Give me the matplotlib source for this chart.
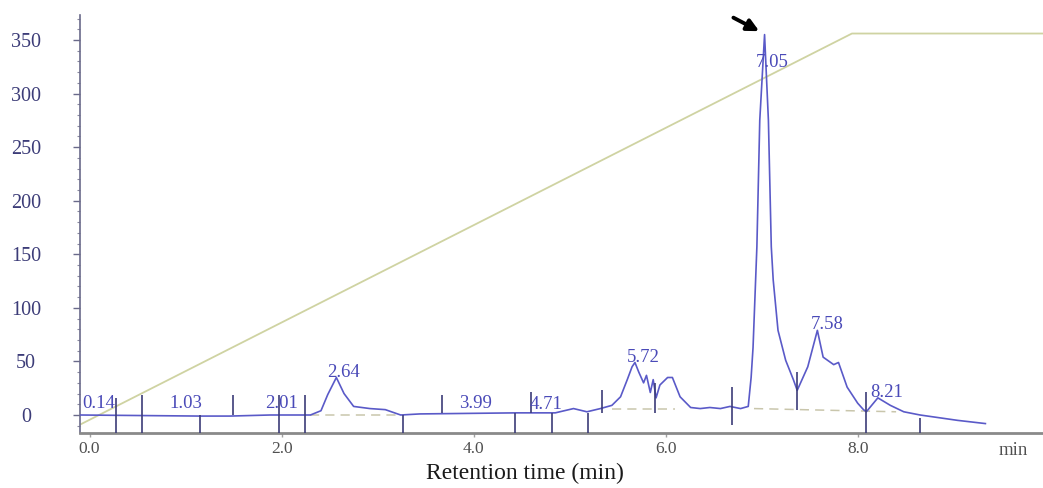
import matplotlib
matplotlib.use("Agg")
import matplotlib.pyplot as plt
from matplotlib.ticker import MultipleLocator

# ---------------- data ----------------
time_min = [-0.10, 1.15, 1.46, 1.88, 2.30, 2.41, 2.48, 2.57, 2.65, 2.75, 2.92, 3.08,
            3.24, 3.44, 4.45, 4.85, 5.04, 5.18, 5.32, 5.44, 5.53, 5.60, 5.65, 5.68,
            5.72, 5.77, 5.80, 5.84, 5.87, 5.90, 5.94, 6.02, 6.07, 6.15, 6.26, 6.36,
            6.46, 6.57, 6.67, 6.78, 6.86, 6.89, 6.91, 6.95, 6.98, 7.03, 7.07, 7.10,
            7.12, 7.17, 7.25, 7.33, 7.37, 7.48, 7.58, 7.64, 7.75, 7.80, 7.89, 8.00,
            8.06, 8.09, 8.21, 8.34, 8.48, 8.65, 9.04, 9.33]
signal = [0, -1, -1, 0, 0, 4, 19, 35, 20, 8, 6, 5,
          0, 1, 2, 2, 6, 3, 6, 9, 17, 33, 45, 49,
          40, 30, 37, 21, 33, 16, 28, 35, 35, 17, 7, 6,
          7, 6, 8, 6, 8, 35, 63, 157, 275, 355, 275, 157,
          126, 79, 51, 33, 23, 45, 79, 54, 47, 49, 26, 11,
          5, 3, 16, 9, 3, 0, -5, -8]

gradient_time = [-0.10, 7.94, 9.93]
gradient_value = [-9, 356, 356]

peak_labels = ["0.14", "1.03", "2.01", "2.64", "3.99", "4.71", "5.72", "7.05", "7.58", "8.21"]
peak_label_height = [11, 11, 11, 40, 11, 10, 54, 329, 84, 21]

marker_time = [0.28, 0.55, 1.15, 1.49, 1.97, 2.24, 3.26, 3.67, 4.43, 4.60, 4.82,
               5.19, 5.34, 5.89, 6.69, 7.37, 8.09, 8.65]
marker_low = [-17, -17, -17, 0, -17, -17, -17, 2, -17, 2, -17, -17, 2, 2, -9, 5, -17, -17]
marker_high = [16, 19, 0, 19, 19, 19, 0, 19, 2, 21, 2, 2, 23, 30, 26, 40, 21, -3]

baseline_start_t = [2.30, 5.44, 6.92]
baseline_end_t = [3.24, 6.10, 8.40]
baseline_start_v = [0, 6, 6]
baseline_end_v = [0, 6, 3]

x_ticks = [0, 2, 4, 6, 8]
x_tick_labels = ["0.0", "2.0", "4.0", "6.0", "8.0"]
y_ticks = [0, 50, 100, 150, 200, 250, 300, 350]

# ---------------- drawing ----------------
serif = ["Liberation Serif", "DejaVu Serif"]
plt.rcParams["font.family"] = serif

fig = plt.figure(figsize=(10.43, 4.88), dpi=100)
ax = fig.add_axes([0.0767, 0.1127, 0.9233, 0.8566])

ax.plot(gradient_time, gradient_value, color="#cfd3a2", lw=1.3, zorder=1)

for t0, t1, v0, v1 in zip(baseline_start_t, baseline_end_t, baseline_start_v, baseline_end_v):
    ax.plot([t0, t1], [v0, v1], color="#c9c6ac", lw=1.1, ls=(0, (6, 4)), zorder=1)

ax.plot(time_min, signal, color="#5a5ac8", lw=1.2, zorder=3)

ax.vlines(marker_time, marker_low, marker_high, color="#3c3c78", lw=1.2, zorder=4)

label_dx = {"0.14": -0.045, "1.03": -0.03, "2.01": -0.01, "3.99": 0.03, "4.71": 0.04,
            "5.72": 0.05, "7.05": 0.06, "7.58": 0.10, "8.21": 0.09}
for lab, h in zip(peak_labels, peak_label_height):
    ax.text(float(lab) + label_dx.get(lab, 0.0), h, lab, ha="center", va="center",
            fontsize=13.5, color="#4a4ab8", zorder=5)

ax.annotate("", xy=(7.00, 357), xytext=(6.68, 372),
            arrowprops=dict(arrowstyle="-|>,head_length=0.7,head_width=0.35",
                            color="black", lw=2.8),
            annotation_clip=False, zorder=6)

ax.set_xlim(-0.10, 9.93)
ax.set_ylim(-16.8, 373.3)

for side in ["top", "right"]:
    ax.spines[side].set_visible(False)
ax.spines["left"].set_color("#6a6a8a")
ax.spines["left"].set_linewidth(1.2)
ax.spines["bottom"].set_color("#8a8a8a")
ax.spines["bottom"].set_linewidth(2.0)

ax.set_yticks(y_ticks)
ax.set_yticklabels([str(v) for v in y_ticks], ha="center")
ax.yaxis.set_minor_locator(MultipleLocator(10))
ax.tick_params(axis="y", which="major", length=5, width=1, color="#6a6a8a",
               labelsize=14.5, labelcolor="#3c3c78", pad=34)
ax.tick_params(axis="y", which="minor", length=2, width=0.8, color="#8a8aa0")

ax.set_xticks(x_ticks)
ax.set_xticklabels(x_tick_labels)
ax.tick_params(axis="x", which="major", length=3, width=1, color="#a0a0a0",
               labelsize=12.5, labelcolor="#505050", pad=3)

ax.text(9.62, -33.5, "min", ha="center", va="center", fontsize=13.5, color="#505050",
        clip_on=False)
fig.text(525 / 1043, 1 - 473 / 488, "Retention time (min)", ha="center", va="center",
         fontsize=17, color="#1a1a1a")

fig.savefig("out.png", dpi=100)
